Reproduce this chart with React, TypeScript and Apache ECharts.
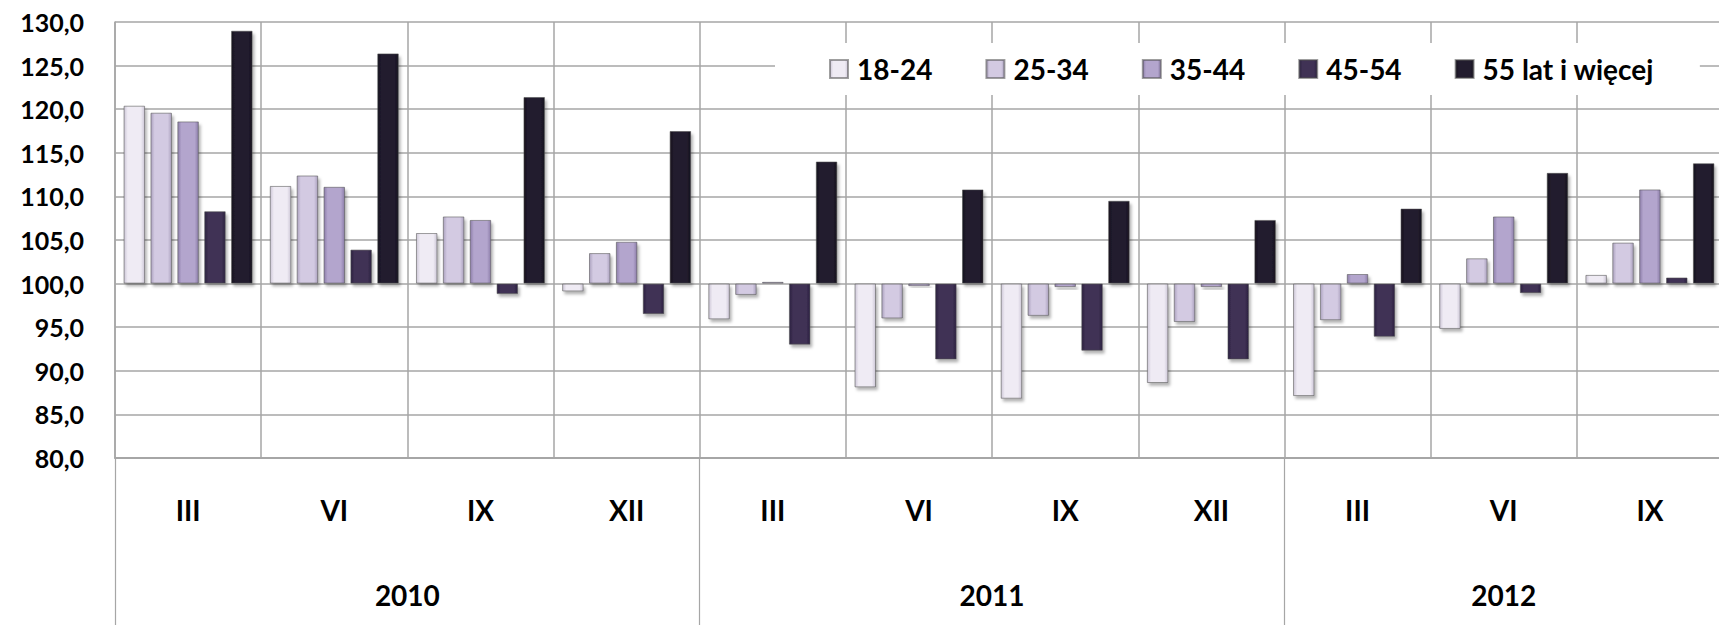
import React, { useEffect, useRef } from "react";
import * as echarts from "echarts";

const months = ["III", "VI", "IX", "XII", "III", "VI", "IX", "XII", "III", "VI", "IX"];
const years = ["2010", "2011", "2012"];
const monthsPerYear = [4, 4, 3];
const yTicks = { min: 80, max: 130, step: 5 };
const baseline = 100;

const seriesNames = ["18-24", "25-34", "35-44", "45-54", "55 lat i więcej"];
const s1824 = [120.4, 111.2, 105.8, 99.1, 95.9, 88.1, 86.8, 88.6, 87.1, 94.8, 101.0];
const s2534 = [119.6, 112.4, 107.7, 103.5, 98.7, 96.0, 96.3, 95.6, 95.8, 102.9, 104.7];
const s3544 = [118.6, 111.1, 107.3, 104.8, 100.2, 99.7, 99.6, 99.6, 101.1, 107.7, 110.8];
const s4554 = [108.3, 103.9, 98.8, 96.5, 93.0, 91.3, 92.3, 91.3, 93.9, 98.9, 100.7];
const s55 = [129.0, 126.4, 121.4, 117.5, 114.0, 110.8, 109.5, 107.3, 108.6, 112.7, 113.8];
const seriesData = [s1824, s2534, s3544, s4554, s55];

const palette = [
  { base: "#efebf4", edge: "#cdc7d7" },
  { base: "#d3cae2", edge: "#aca2bf" },
  { base: "#b3a5cd", edge: "#8d7eaa" },
  { base: "#403255", edge: "#2b2140" },
  { base: "#221c2e", edge: "#15111d" },
];

const FONT = "Lato, 'Open Sans', sans-serif";
const GRID = "#a6a6a6";

export default function App() {
  const ref = useRef<HTMLDivElement>(null);
  useEffect(() => {
    if (!ref.current) return;
    const chart = echarts.init(ref.current, null, { renderer: "svg" });

    // year group boundaries and centers (in category units)
    const bounds: number[] = [];
    const centers: number[] = [];
    let acc = 0;
    monthsPerYear.forEach((n) => {
      bounds.push(acc);
      centers.push(acc + n / 2);
      acc += n;
    });

    const series = seriesData.map((d, i) => ({
      name: seriesNames[i],
      type: "bar",
      xAxisIndex: 0,
      yAxisIndex: 0,
      barWidth: 21.5,
      barGap: "25%",
      data: d.map((v) => +(v - baseline).toFixed(2)),
      itemStyle: {
        color: new echarts.graphic.LinearGradient(0, 0, 1, 0, [
          { offset: 0, color: palette[i].edge },
          { offset: 0.18, color: palette[i].base },
          { offset: 0.82, color: palette[i].base },
          { offset: 1, color: palette[i].edge },
        ]),
        borderColor: "rgba(80,80,80,0.55)",
        borderWidth: 1,
        shadowColor: "rgba(0,0,0,0.3)",
        shadowBlur: 3,
        shadowOffsetX: 2,
        shadowOffsetY: 3,
      },
    }));

    chart.setOption({
      animation: false,
      backgroundColor: "#ffffff",
      textStyle: { fontFamily: FONT },
      grid: {
        left: 115,
        top: 22,
        width: 1608,
        height: 436,
        containLabel: false,
        outerBoundsMode: "none",
      },
      legend: {
        left: 775,
        top: 43,
        padding: [12, 46, 12, 54],
        backgroundColor: "#ffffff",
        itemWidth: 18,
        itemHeight: 18,
        itemGap: 53,
        icon: "rect",
        textStyle: {
          fontFamily: FONT,
          fontSize: 28,
          fontWeight: "bold",
          color: "#000",
          padding: [0, 0, 0, 4],
        },
        data: seriesNames,
      },
      xAxis: [
        {
          type: "category",
          data: months,
          gridIndex: 0,
          position: "bottom",
          axisLine: { show: true, onZero: false, lineStyle: { color: GRID, width: 2 } },
          axisTick: {
            show: true,
            length: 170,
            interval: (index: number) => bounds.indexOf(index) >= 0,
            lineStyle: { color: GRID, width: 1.2 },
          },
          splitLine: { show: true, interval: 0, lineStyle: { color: GRID, width: 1.5 } },
          axisLabel: {
            interval: 0,
            margin: 52,
            verticalAlign: "middle",
            fontFamily: FONT,
            fontSize: 28,
            fontWeight: "bold",
            color: "#000",
          },
        },
        {
          type: "value",
          gridIndex: 0,
          position: "bottom",
          min: 0,
          max: months.length,
          axisLine: { show: false },
          splitLine: { show: false },
          axisTick: { show: false },
          axisLabel: {
            customValues: centers,
            margin: 137,
            verticalAlign: "middle",
            fontFamily: FONT,
            fontSize: 28,
            fontWeight: "bold",
            color: "#000",
            formatter: (v: number) => {
              const idx = centers.findIndex((c) => Math.abs(c - v) < 1e-6);
              return idx >= 0 ? years[idx] : "";
            },
          },
        },
      ],
      yAxis: {
        type: "value",
        min: yTicks.min - baseline,
        max: yTicks.max - baseline,
        interval: yTicks.step,
        axisLine: { show: true, lineStyle: { color: GRID, width: 1.5 } },
        axisTick: { show: false },
        splitLine: { show: true, lineStyle: { color: GRID, width: 1.5 } },
        axisLabel: {
          margin: 31,
          fontFamily: FONT,
          fontSize: 25,
          fontWeight: "bold",
          color: "#000",
          formatter: (v: number) => (v + baseline).toFixed(1).replace(".", ","),
        },
      },
      series,
    });
    return () => chart.dispose();
  }, []);

  return (
    <div
      ref={ref}
      style={{ position: "fixed", left: 0, top: 0, width: 1719, height: 625 }}
    />
  );
}
